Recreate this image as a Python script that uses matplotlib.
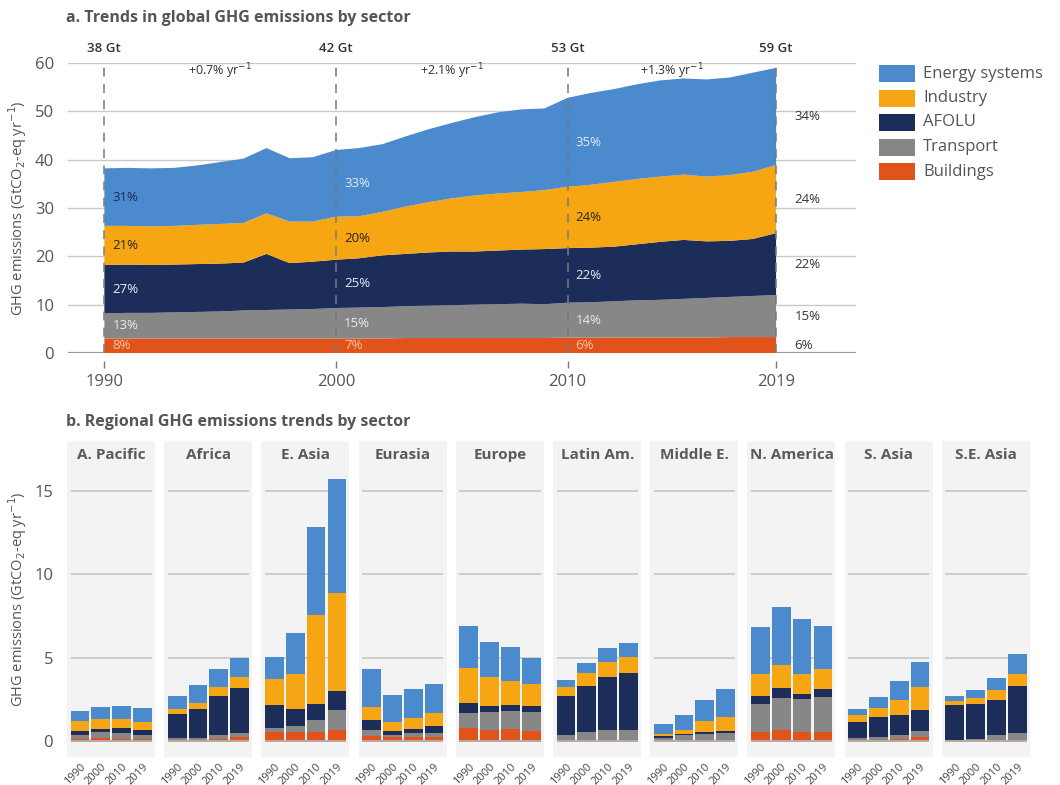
import matplotlib
matplotlib.use('Agg')
import matplotlib.pyplot as plt
from matplotlib.patches import Rectangle
import numpy as np

plt.rcParams['font.family'] = ['Open Sans', 'DejaVu Sans']

# ---- panel a: global emissions by sector (GtCO2-eq/yr) ----
years = np.arange(1990, 2020)
buildings = [3.0, 3.0, 3.0, 3.0, 3.0, 3.0, 3.0, 3.0, 3.0, 3.0,
             3.0, 3.0, 3.0, 3.1, 3.1, 3.1, 3.1, 3.1, 3.1, 3.1,
             3.2, 3.2, 3.2, 3.2, 3.2, 3.2, 3.2, 3.3, 3.3, 3.3]
transport = [5.2, 5.3, 5.3, 5.4, 5.5, 5.6, 5.8, 5.9, 6.0, 6.1,
             6.3, 6.4, 6.5, 6.6, 6.7, 6.8, 6.9, 7.0, 7.1, 7.0,
             7.2, 7.3, 7.5, 7.7, 7.8, 8.0, 8.2, 8.3, 8.5, 8.7]
afolu = [10.0, 10.0, 9.9, 9.9, 9.9, 9.9, 9.9, 11.6, 9.6, 9.8,
         10.0, 10.2, 10.7, 10.8, 11.0, 11.1, 11.0, 11.1, 11.2, 11.4,
         11.3, 11.3, 11.3, 11.6, 12.0, 12.2, 11.7, 11.6, 11.8, 12.8]
industry = [8.1, 8.0, 8.0, 8.0, 8.1, 8.2, 8.2, 8.4, 8.6, 8.3,
            8.9, 8.7, 9.0, 9.8, 10.4, 11.0, 11.6, 11.8, 11.9, 12.2,
            12.7, 13.0, 13.4, 13.5, 13.5, 13.5, 13.4, 13.6, 13.9, 14.1]
energy = [11.9, 12.0, 12.0, 12.0, 12.3, 12.8, 13.3, 13.5, 13.1, 13.3,
          13.8, 14.1, 14.0, 14.5, 15.1, 15.6, 16.2, 16.8, 17.1, 16.9,
          18.4, 19.0, 19.2, 19.6, 19.9, 19.9, 20.1, 20.2, 20.5, 20.1]

anchor_years = [1990, 2000, 2010, 2019]
total_labels = ['38 Gt', '42 Gt', '53 Gt', '59 Gt']
growth_labels = ['+0.7% yr$^{-1}$', '+2.1% yr$^{-1}$', '+1.3% yr$^{-1}$']
# shares, bottom sector first
share_labels = [['8%', '13%', '27%', '21%', '31%'],
                ['7%', '15%', '25%', '20%', '33%'],
                ['6%', '14%', '22%', '24%', '35%'],
                ['6%', '15%', '22%', '24%', '34%']]

sectors = ['Buildings', 'Transport', 'AFOLU', 'Industry', 'Energy systems']
colors = ['#e2531b', '#878787', '#1c2d5a', '#f6a513', '#4a8acd']

# ---- panel b: regional emissions (1990, 2000, 2010, 2019) ----
regions = ['A. Pacific', 'Africa', 'E. Asia', 'Eurasia', 'Europe',
           'Latin Am.', 'Middle E.', 'N. America', 'S. Asia', 'S.E. Asia']
bar_years = ['1990', '2000', '2010', '2019']
reg_buildings = [[0.12, 0.16, 0.12, 0.12], [0.06, 0.06, 0.10, 0.26],
                 [0.55, 0.54, 0.54, 0.68], [0.30, 0.23, 0.27, 0.27],
                 [0.76, 0.66, 0.70, 0.62], [0.06, 0.06, 0.06, 0.06],
                 [0.06, 0.08, 0.08, 0.08], [0.54, 0.64, 0.54, 0.54],
                 [0.08, 0.08, 0.14, 0.24], [0.03, 0.03, 0.04, 0.08]]
reg_transport = [[0.24, 0.36, 0.34, 0.24], [0.10, 0.10, 0.26, 0.24],
                 [0.25, 0.34, 0.70, 1.16], [0.35, 0.14, 0.23, 0.24],
                 [0.94, 1.06, 1.12, 1.10], [0.30, 0.46, 0.60, 0.60],
                 [0.14, 0.26, 0.36, 0.40], [1.66, 1.94, 2.00, 2.10],
                 [0.12, 0.16, 0.24, 0.34], [0.05, 0.11, 0.30, 0.40]]
reg_afolu = [[0.26, 0.20, 0.30, 0.30], [1.44, 1.74, 2.34, 2.66],
             [1.35, 1.06, 1.00, 1.16], [0.60, 0.25, 0.25, 0.41],
             [0.56, 0.38, 0.34, 0.38], [2.34, 2.80, 3.16, 3.40],
             [0.08, 0.10, 0.10, 0.10], [0.50, 0.62, 0.30, 0.46],
             [0.94, 1.20, 1.16, 1.26], [2.10, 2.06, 2.14, 2.81]]
reg_industry = [[0.58, 0.60, 0.56, 0.50], [0.32, 0.40, 0.56, 0.70],
                [1.57, 2.11, 5.32, 5.86], [0.82, 0.53, 0.65, 0.79],
                [2.14, 1.76, 1.46, 1.32], [0.56, 0.74, 0.94, 1.00],
                [0.16, 0.24, 0.64, 0.86], [1.30, 1.35, 1.16, 1.20],
                [0.40, 0.56, 0.94, 1.41], [0.20, 0.40, 0.61, 0.76]]
reg_energy = [[0.60, 0.70, 0.78, 0.80], [0.78, 1.06, 1.08, 1.14],
              [1.34, 2.46, 5.27, 6.85], [2.23, 1.63, 1.72, 1.74],
              [2.52, 2.06, 2.04, 1.58], [0.40, 0.60, 0.80, 0.80],
              [0.60, 0.90, 1.30, 1.71], [2.85, 3.50, 3.31, 2.61],
              [0.40, 0.64, 1.11, 1.50], [0.31, 0.45, 0.72, 1.20]]

W, H = 1060, 785
fig = plt.figure(figsize=(W / 100, H / 100), dpi=100)
txt = '#555555'


def fx(px):
    return px / W


def fy(py):
    return 1 - py / H


# ================= panel a =================
ax = fig.add_axes([fx(68), fy(353), fx(856) - fx(68), fy(63) - fy(353)])
series = [buildings, transport, afolu, industry, energy]
ax.stackplot(years, *series, colors=colors, linewidth=0, zorder=2)
ax.set_xlim(1988.43, 2022.45)
ax.set_ylim(0, 60)
for s in ax.spines.values():
    s.set_visible(False)
ax.set_yticks(np.arange(0, 61, 10))
ax.yaxis.grid(True, color='#c9c9c9', lw=1.0, zorder=0)
ax.set_axisbelow(True)
ax.axhline(0, color='#9a9a9a', lw=1.6, zorder=1)
ax.tick_params(axis='y', length=0, pad=10, labelsize=12, labelcolor=txt)
ax.spines['bottom'].set_position(('outward', 6))
ax.set_xticks(anchor_years)
ax.tick_params(axis='x', length=5, width=1, color='#777777', pad=4,
               labelsize=12, labelcolor=txt)
ax.set_ylabel('GHG emissions (GtCO$_2$-eq yr$^{-1}$)', fontsize=10.5,
              color=txt, labelpad=4)

ax.vlines(anchor_years, 0, 60, colors='#7a7a7a', linestyles=(0, (5, 4)),
          lw=1.3, zorder=3, alpha=0.85)

cum = np.cumsum(np.array(series), axis=0)
for k, yr in enumerate(anchor_years):
    i = yr - 1990
    ax.text(yr, 63.1, total_labels[k], ha='center', va='center',
            fontsize=9.5, fontweight='semibold', color='#333333',
            clip_on=False)
    for j in range(5):
        lo = cum[j - 1, i] if j > 0 else 0.0
        mid = (lo + cum[j, i]) / 2
        if yr == 2019:
            ax.text(yr + 0.8, mid, share_labels[k][j], ha='left', va='center',
                    fontsize=9.5, color='#333333', zorder=4)
        else:
            if j == 3 or (j == 4 and yr == 1990):
                c = '#2a2418' if j == 3 else '#1c2d5a'
            elif j == 0:
                c = '#f8c4a6'
            else:
                c = '#e6ecf5'
            ax.text(yr + 0.35, mid, share_labels[k][j], ha='left',
                    va='center', fontsize=9.5, color=c, zorder=4)

for k in range(3):
    xm = (anchor_years[k] + anchor_years[k + 1]) / 2
    ax.text(xm, 58.3, growth_labels[k], ha='center', va='center',
            fontsize=9, color='#333333', zorder=4)

fig.text(fx(66), fy(18), 'a. Trends in global GHG emissions by sector',
         fontsize=11.5, fontweight='bold', color=txt, va='center')

# legend (top to bottom)
for n in range(5):
    j = 4 - n
    top = 65 + n * 24.5
    fig.patches.append(Rectangle((fx(879), fy(top + 17)), fx(36), 17 / H,
                                 transform=fig.transFigure,
                                 facecolor=colors[j], edgecolor='none'))
    fig.text(fx(923), fy(top + 8.5), sectors[j], fontsize=12, color=txt,
             va='center', ha='left')

# ================= panel b =================
fig.text(fx(66), fy(422), 'b. Regional GHG emissions trends by sector',
         fontsize=11.5, fontweight='bold', color=txt, va='center')

reg_series = [reg_buildings, reg_transport, reg_afolu, reg_industry,
              reg_energy]
x = np.arange(4)
for r, name in enumerate(regions):
    left = 67 + 97.2 * r
    bx = fig.add_axes([fx(left), fy(757), fx(88), fy(441) - fy(757)])
    bx.set_facecolor('#f3f3f3')
    bx.set_xlim(-0.62, 3.6)
    bx.set_ylim(-0.96, 18.0)
    for s in bx.spines.values():
        s.set_visible(False)
    bx.hlines([5, 10, 15], -0.45, 3.45, colors='#c6c6c6', lw=1.2, zorder=1)
    bottom = np.zeros(4)
    for j in range(5):
        vals = np.array(reg_series[j][r])
        bx.bar(x, vals, width=0.9, bottom=bottom, color=colors[j],
               linewidth=0, zorder=2)
        bottom += vals
    bx.hlines(0, -0.45, 3.45, colors='#b8aaa0', lw=1.4, zorder=3)
    bx.text(1.5, 17.15, name, ha='center', va='center', fontsize=11,
            fontweight='bold', color='#5a5a5a')
    bx.set_xticks(x)
    bx.set_xticklabels(bar_years, rotation=45, ha='right',
                       rotation_mode='anchor', fontsize=8, color='#444444')
    bx.tick_params(axis='x', length=0, pad=3)
    if r == 0:
        bx.set_yticks([0, 5, 10, 15])
        bx.tick_params(axis='y', length=0, pad=10, labelsize=12,
                       labelcolor=txt)
        bx.set_ylabel('GHG emissions (GtCO$_2$-eq yr$^{-1}$)', fontsize=10.5,
                      color=txt, labelpad=4)
    else:
        bx.set_yticks([])

fig.savefig('out.png', dpi=100)
